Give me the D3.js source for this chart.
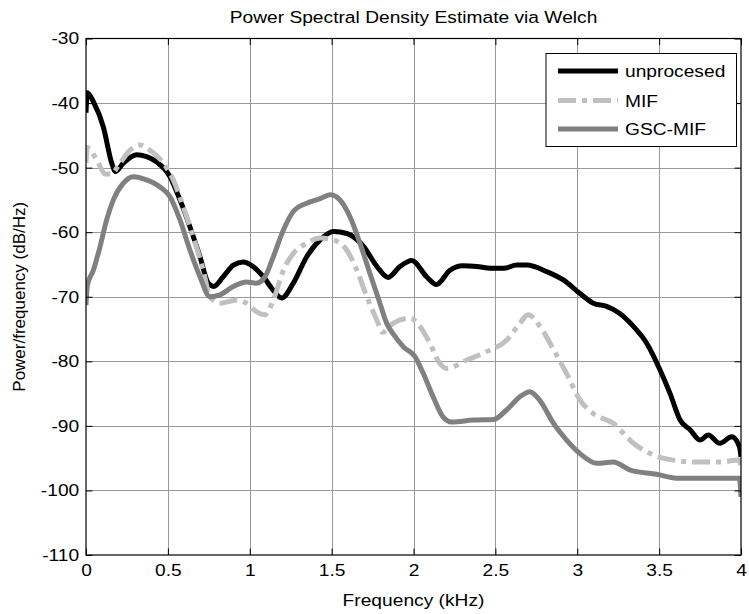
<!DOCTYPE html>
<html lang="en">
<head>
<meta charset="UTF-8">
<title>Power Spectral Density Estimate via Welch</title>
<script src="https://cdnjs.cloudflare.com/ajax/libs/d3/7.8.5/d3.min.js"></script>
<style>
  body { margin: 0; background: #fff; }
  svg text { font-family: "Liberation Sans", Arial, sans-serif; fill: #000; }
</style>
</head>
<body>
<svg id="chart" width="749" height="614"></svg>
<script>
// frequency (kHz) / power (dB/Hz)
const freqUnproc = [0, 0.008, 0.045, 0.106, 0.157, 0.18, 0.228, 0.31, 0.37, 0.43, 0.513, 0.574, 0.635, 0.696, 0.747, 0.78, 0.838, 0.9, 0.96, 1.02, 1.083, 1.144, 1.195, 1.266, 1.348, 1.43, 1.511, 1.593, 1.695, 1.776, 1.845, 1.918, 1.99, 2.08, 2.14, 2.223, 2.30, 2.386, 2.47, 2.55, 2.63, 2.69, 2.813, 2.915, 3.017, 3.098, 3.18, 3.26, 3.343, 3.424, 3.505, 3.567, 3.628, 3.689, 3.75, 3.80, 3.87, 3.943, 3.99, 4.0];
const psdUnproc = [-41.5, -38.4, -39.8, -43.7, -49.3, -50.6, -49.3, -48.0, -48.3, -49.1, -51.4, -55.0, -59.2, -63.8, -67.9, -68.4, -66.9, -65.1, -64.6, -65.3, -66.9, -69.0, -70.2, -67.9, -63.8, -61.2, -59.9, -60.2, -62.2, -65.3, -67.0, -65.3, -64.4, -66.9, -68.1, -65.9, -65.2, -65.3, -65.6, -65.6, -65.1, -65.1, -66.1, -67.4, -69.5, -71.0, -71.5, -72.6, -74.6, -77.2, -81.3, -85.0, -89.1, -90.6, -92.2, -91.4, -92.7, -91.7, -93.2, -94.8];

const freqMIF = [0, 0.008, 0.065, 0.12, 0.15, 0.208, 0.269, 0.33, 0.39, 0.472, 0.533, 0.594, 0.655, 0.716, 0.757, 0.818, 0.92, 0.98, 1.04, 1.093, 1.144, 1.205, 1.266, 1.348, 1.43, 1.511, 1.593, 1.654, 1.715, 1.776, 1.81, 1.877, 1.98, 2.04, 2.10, 2.16, 2.203, 2.325, 2.447, 2.57, 2.65, 2.70, 2.773, 2.855, 2.935, 3.017, 3.098, 3.22, 3.343, 3.465, 3.587, 3.73, 3.87, 3.99, 4.0];
const psdMIF = [-49.3, -46.9, -48.8, -51.0, -51.0, -49.3, -47.3, -46.5, -47.3, -49.3, -51.9, -56.1, -60.7, -65.9, -70.0, -71.0, -70.5, -71.0, -72.3, -72.8, -70.5, -65.9, -63.3, -61.7, -60.9, -61.2, -62.8, -65.9, -70.0, -73.6, -75.5, -74.1, -73.3, -74.6, -77.2, -80.3, -81.1, -79.8, -78.5, -76.7, -74.1, -72.8, -74.6, -78.2, -81.9, -86.0, -88.1, -89.6, -92.7, -94.5, -95.3, -95.6, -95.6, -95.3, -96.5];

const freqGSC = [0, 0.008, 0.045, 0.085, 0.126, 0.167, 0.228, 0.289, 0.37, 0.452, 0.513, 0.574, 0.635, 0.696, 0.757, 0.818, 0.9, 0.98, 1.04, 1.093, 1.144, 1.205, 1.266, 1.348, 1.43, 1.49, 1.551, 1.612, 1.673, 1.734, 1.795, 1.836, 1.877, 1.94, 2.01, 2.06, 2.12, 2.18, 2.233, 2.365, 2.49, 2.57, 2.65, 2.71, 2.77, 2.855, 2.935, 3.017, 3.12, 3.22, 3.32, 3.485, 3.607, 3.75, 3.99, 4.0];
const psdGSC = [-71.3, -68.3, -65.9, -62.3, -58.1, -55.0, -52.4, -51.4, -51.9, -53.0, -54.5, -58.1, -62.8, -66.9, -70.0, -69.7, -68.4, -67.7, -67.9, -66.9, -63.8, -59.7, -56.8, -55.5, -54.8, -54.2, -55.0, -57.6, -61.7, -66.4, -71.0, -74.1, -75.8, -77.8, -79.3, -81.9, -85.5, -88.6, -89.4, -89.1, -89.0, -87.5, -85.5, -84.7, -86.0, -89.6, -92.2, -94.3, -95.8, -95.6, -96.8, -97.5, -98.1, -98.1, -98.1, -101.0];

const seriesNames = ["unprocesed", "MIF", "GSC-MIF"];
const xTicks = [0, 0.5, 1, 1.5, 2, 2.5, 3, 3.5, 4];
const yTicks = [-110, -100, -90, -80, -70, -60, -50, -40, -30];

const series = [
  { name: seriesNames[0], f: freqUnproc, p: psdUnproc, color: "#000000", dash: null },
  { name: seriesNames[1], f: freqMIF, p: psdMIF, color: "#c0c0c0", dash: "18,6,5,6" },
  { name: seriesNames[2], f: freqGSC, p: psdGSC, color: "#808080", dash: null }
];

const svg = d3.select("#chart");
const plotL = 86, plotR = 741, plotT = 38.5, plotB = 555;
const SX = 1.13; // glyphs in the figure are a bit wider than Arial

const x = d3.scaleLinear().domain([0, 4]).range([plotL, plotR]);
const y = d3.scaleLinear().domain([-110, -30]).range([plotB, plotT]);

svg.append("rect").attr("x", 0).attr("y", 0).attr("width", 749).attr("height", 614).attr("fill", "#fff");

// grid
const grid = svg.append("g").attr("stroke", "#999").attr("stroke-width", 1);
grid.selectAll("line.v").data(xTicks.slice(1, -1)).enter().append("line")
  .attr("x1", d => Math.round(x(d)) + 0.5).attr("x2", d => Math.round(x(d)) + 0.5)
  .attr("y1", plotT).attr("y2", plotB);
grid.selectAll("line.h").data(yTicks.slice(1, -1)).enter().append("line")
  .attr("y1", d => Math.round(y(d)) + 0.5).attr("y2", d => Math.round(y(d)) + 0.5)
  .attr("x1", plotL).attr("x2", plotR);

// curves
svg.append("clipPath").attr("id", "clip").append("rect")
  .attr("x", plotL).attr("y", plotT).attr("width", plotR - plotL).attr("height", plotB - plotT);

const line = d3.line().x(d => x(d[0])).y(d => y(d[1])).curve(d3.curveMonotoneX);
const plot = svg.append("g").attr("clip-path", "url(#clip)");
series.forEach(s => {
  plot.append("path")
    .datum(s.f.map((f, i) => [f, s.p[i]]))
    .attr("d", line)
    .attr("fill", "none")
    .attr("stroke", s.color)
    .attr("stroke-width", 5)
    .attr("stroke-linejoin", "round")
    .attr("stroke-dasharray", s.dash);
});

// axes (MATLAB style: inward ticks on all four sides, plain hyphen minus)
const tickLen = 6.5;
const fmt = d => String(d);
const axL = svg.append("g").attr("transform", `translate(${plotL},0)`)
  .call(d3.axisLeft(y).tickValues(yTicks).tickFormat(fmt).tickSize(-tickLen).tickSizeOuter(0).tickPadding(6));
const axB = svg.append("g").attr("transform", `translate(0,${plotB})`)
  .call(d3.axisBottom(x).tickValues(xTicks).tickFormat(fmt).tickSize(-tickLen).tickSizeOuter(0).tickPadding(9));
svg.append("g").attr("transform", `translate(${plotR},0)`)
  .call(d3.axisRight(y).tickValues(yTicks).tickSize(-tickLen).tickSizeOuter(0).tickFormat(""));
svg.append("g").attr("transform", `translate(0,${plotT})`)
  .call(d3.axisTop(x).tickValues(xTicks).tickSize(-tickLen).tickSizeOuter(0).tickFormat(""));

svg.selectAll(".domain").remove();
svg.selectAll(".tick line").attr("stroke", "#000");
[axL, axB].forEach(a => a.selectAll("text")
  .style("font-size", "17px")
  .attr("transform", `scale(${SX},1)`));
axB.selectAll("text").attr("dy", "0.71em");

svg.append("rect")
  .attr("x", plotL).attr("y", plotT).attr("width", plotR - plotL).attr("height", plotB - plotT)
  .attr("fill", "none").attr("stroke", "#000").attr("stroke-width", 1.2);

// titles
svg.append("text")
  .attr("transform", `translate(${(plotL + plotR) / 2},23) scale(${SX},1)`)
  .attr("text-anchor", "middle").style("font-size", "17px")
  .text("Power Spectral Density Estimate via Welch");
svg.append("text")
  .attr("transform", `translate(${(plotL + plotR) / 2},606) scale(${SX},1)`)
  .attr("text-anchor", "middle").style("font-size", "17px")
  .text("Frequency (kHz)");
svg.append("text")
  .attr("transform", `translate(25,${(plotT + plotB) / 2}) rotate(-90)`)
  .attr("text-anchor", "middle").style("font-size", "17px")
  .text("Power/frequency (dB/Hz)");

// legend
const lg = svg.append("g");
lg.append("rect").attr("x", 546).attr("y", 53.5).attr("width", 190.5).attr("height", 93)
  .attr("fill", "#fff").attr("stroke", "#000").attr("stroke-width", 1);
const rowY = [71, 100.5, 129];
series.forEach((s, i) => {
  lg.append("line")
    .attr("x1", 558).attr("x2", 618).attr("y1", rowY[i]).attr("y2", rowY[i])
    .attr("stroke", s.color).attr("stroke-width", 5).attr("stroke-dasharray", s.dash);
  lg.append("text")
    .attr("transform", `translate(625,${rowY[i] + 6}) scale(${SX},1)`)
    .style("font-size", "17px")
    .text(s.name);
});
</script>
</body>
</html>
